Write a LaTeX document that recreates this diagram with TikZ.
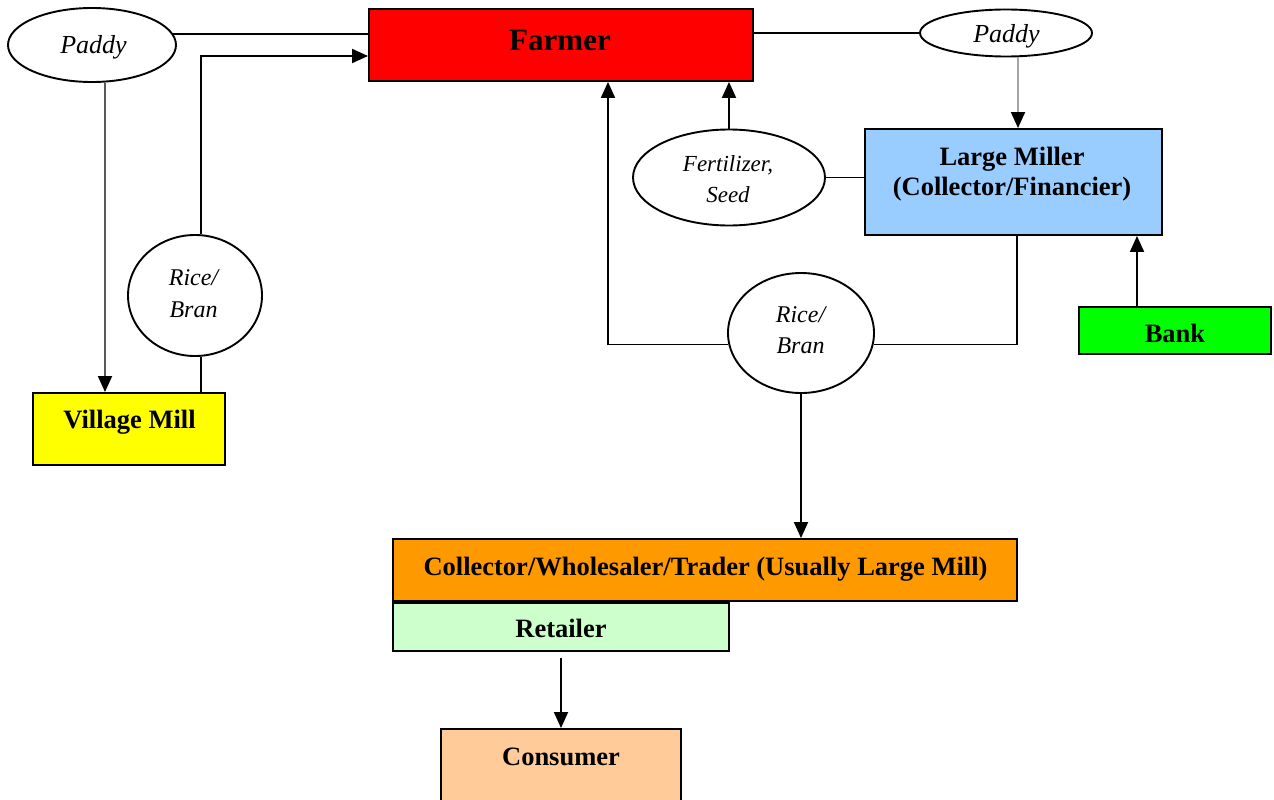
\documentclass[tikz,border=0pt]{standalone}
\usepackage{fontspec}
\setmainfont{Liberation Serif}
\usetikzlibrary{shapes.geometric,arrows.meta}
\definecolor{farmerfill}{RGB}{255,0,0}
\definecolor{villagefill}{RGB}{255,255,0}
\definecolor{millerfill}{RGB}{153,204,255}
\definecolor{bankfill}{RGB}{0,255,0}
\definecolor{tradefill}{RGB}{255,153,0}
\definecolor{retailfill}{RGB}{204,255,204}
\definecolor{consumerfill}{RGB}{255,204,153}
\definecolor{darkline}{RGB}{90,90,90}
\definecolor{paleline}{RGB}{165,165,165}
\begin{document}
\begin{tikzpicture}[x=1pt,y=-1pt,
  box/.style={draw=black,line width=1.9pt,rectangle,inner sep=0pt},
  oval/.style={draw=black,line width=1.9pt,ellipse,inner sep=0pt},
  btext/.style={anchor=base,inner sep=0pt,align=center,
    font=\fontsize{26.5}{29.5}\selectfont\bfseries},
  itext/.style={anchor=base,inner sep=0pt,align=center,
    font=\fontsize{26}{31}\selectfont\itshape},
  link/.style={line width=1.9pt},
  arr/.style={link,-{Triangle[length=16pt,width=14pt,color=black]}},
]
\useasboundingbox (0,0) rectangle (1274,800);
\clip (0,0) rectangle (1274,800);

% boxes
\node[box,fill=farmerfill,minimum width=384pt,minimum height=72pt] (farmer) at (561,45) {};
\node[box,fill=millerfill,minimum width=297pt,minimum height=106pt] (miller) at (1013.5,182) {};
\node[box,fill=villagefill,minimum width=192pt,minimum height=72pt] (village) at (129,429) {};
\node[box,fill=bankfill,minimum width=192pt,minimum height=47pt] (bank) at (1175,330.5) {};
\node[box,fill=tradefill,minimum width=624pt,minimum height=62pt] (collector) at (705,570) {};
\node[box,fill=retailfill,minimum width=336pt,minimum height=48pt] (retailer) at (561,627) {};
\node[box,fill=consumerfill,minimum width=240pt,minimum height=84pt] (consumer) at (561,771) {};

% flow ovals
\node[oval,minimum width=168pt,minimum height=74pt] (paddyL) at (92,45) {};
\node[oval,minimum width=172pt,minimum height=47pt] (paddyR) at (1006,33) {};
\node[oval,minimum width=192pt,minimum height=96pt] (fert) at (729,177.5) {};
\node[oval,minimum width=134pt,minimum height=121pt] (riceL) at (195,295.5) {};
\node[oval,minimum width=146pt,minimum height=120pt] (riceR) at (801,333) {};

% box texts (anchored on the baseline of the last line)
\node[btext,font=\fontsize{31}{34}\selectfont\bfseries] (farmerT) at (560,51) {Farmer};
\node[btext] (millerT) at (1012,195) {Large Miller\\(Collector/Financier)};
\node[btext] (villageT) at (129.5,428.3) {Village Mill};
\node[btext] (bankT) at (1175,342.7) {Bank};
\node[btext] (collectorT) at (705.5,575.7) {Collector/Wholesaler/Trader (Usually Large Mill)};
\node[btext] (retailerT) at (561,637.7) {Retailer};
\node[btext] (consumerT) at (561,765) {Consumer};

% oval texts
\node[itext] (paddyLT) at (93.5,53.3) {Paddy};
\node[itext] (paddyRT) at (1006.5,42.5) {Paddy};
\node[itext,font=\fontsize{23}{31}\selectfont\itshape] (fertT) at (728,202.7) {Fertilizer,\\Seed};
\node[itext,font=\fontsize{24}{32.3}\selectfont\itshape] (riceLT) at (193.5,317.3) {Rice/\\Bran};
\node[itext,font=\fontsize{24}{30.6}\selectfont\itshape] (riceRT) at (800.5,353.3) {Rice/\\Bran};

% connectors
\draw[link] (paddyL.8.6) -- (paddyL.8.6 -| farmer.west);
\draw[arr] ([xshift=6pt]riceL.north) |- ([yshift=-11pt]farmer.west);
\draw[arr,draw=darkline] ([xshift=13pt]paddyL.south) -- ([xshift=13pt]paddyL.south |- village.north);
\draw[link] ([xshift=6pt]riceL.south) -- ([xshift=6pt]riceL.south |- village.north);
\draw[link] (farmer.east |- paddyR.west) -- (paddyR.west);
\draw[arr,draw=paleline] ([xshift=12pt]paddyR.south) -- ([xshift=12pt]paddyR.south |- miller.north);
\draw[arr] (fert.north) -- (fert.north |- farmer.south);
\draw[link] (fert.east) -- (fert.east -| miller.west);
\draw[arr] (riceR.189.6) -| ([xshift=47pt]farmer.south);
\draw[link] ([xshift=3.5pt]miller.south) |- (riceR.-9.6);
\draw[arr] ([xshift=-38pt]bank.north) -- ([xshift=-38pt]bank.north |- miller.south);
\draw[arr] (riceR.south) -- (riceR.south |- collector.north);
\draw[arr,shorten <=6pt] (retailer.south) -- (consumer.north);
\end{tikzpicture}
\end{document}
